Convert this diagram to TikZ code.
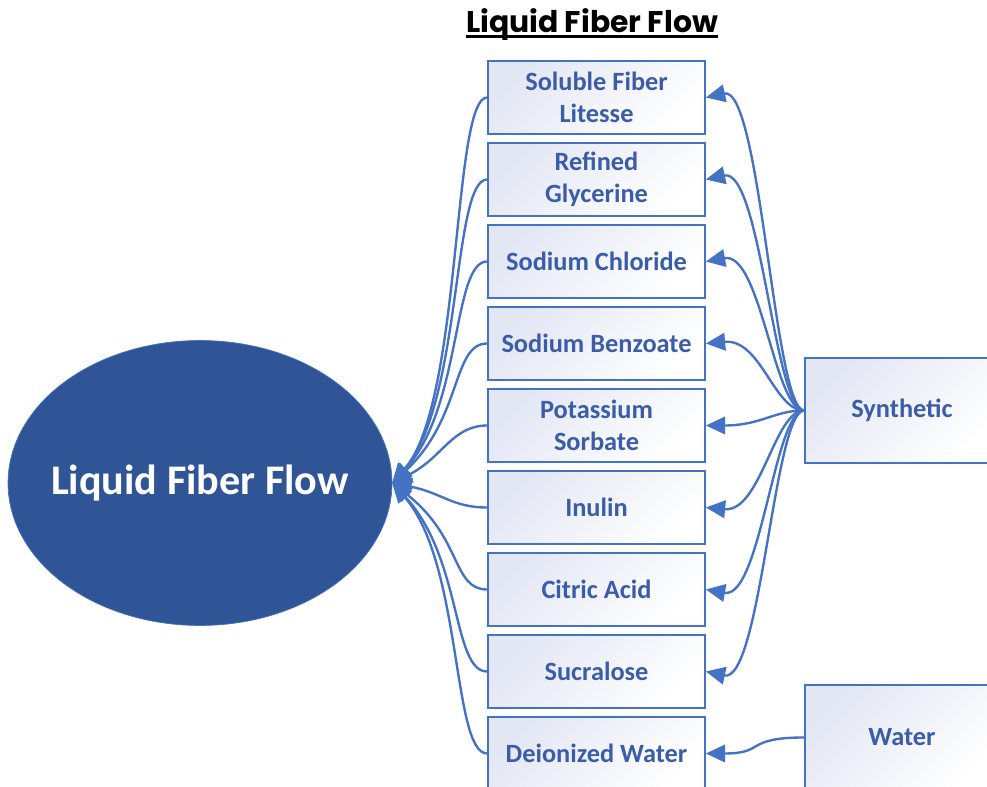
\documentclass[tikz,border=0pt]{standalone}
\usepackage{fontspec}
\setmainfont{Carlito}
\newfontfamily\titlefont{Poppins}
\usetikzlibrary{arrows.meta,shapes.geometric}
\definecolor{lineblue}{HTML}{4472C4}
\definecolor{textblue}{HTML}{3B5CA8}
\definecolor{ovalblue}{HTML}{2F5597}
\definecolor{shadeblue}{HTML}{E3E7F4}
\tikzset{
  item/.style={draw=lineblue, line width=1pt, top color=shadeblue, bottom color=white,
    shading angle=45, minimum width=4.34cm, minimum height=1.46cm, align=center,
    text=textblue, font=\bfseries\fontsize{15}{18}\selectfont},
  source/.style={item, minimum width=3.88cm, minimum height=2.1cm},
  link/.style={draw=lineblue, line width=1.35pt, -{Triangle[length=11pt,width=10pt]}}
}
\begin{document}
\begin{tikzpicture}[x=0.02cm,y=0.02cm]
  \clip (0,0) rectangle (987,787);
  % title
  \node[anchor=base, inner sep=0, font=\titlefont\bfseries\fontsize{17}{20}\selectfont] (title) at (592,754) {Liquid Fiber Flow};
  \draw[line width=1.7pt] (title.base west) ++(0,-4) -- ([yshift=-4*0.02cm]title.base east);
  % main oval
  \node[draw=lineblue, fill=ovalblue, ellipse, minimum width=7.68cm, minimum height=5.7cm, inner sep=0] (flow) at (200,304) {};
  \node[text=white, font=\bfseries\fontsize{24}{28}\selectfont] (flowtext) at (flow.center) {Liquid Fiber Flow};
  % ingredients
  \node[item] (fiber) at (596.5,689.5) {Soluble Fiber\\Litesse};
  \node[item] (glycerine) at (596.5,607.5) {Refined\\Glycerine};
  \node[item] (salt) at (596.5,525.5) {Sodium Chloride};
  \node[item] (benzoate) at (596.5,443.5) {Sodium Benzoate};
  \node[item] (sorbate) at (596.5,361.5) {Potassium\\Sorbate};
  \node[item] (inulin) at (596.5,279.5) {Inulin};
  \node[item] (citric) at (596.5,197.5) {Citric Acid};
  \node[item] (sucralose) at (596.5,115.5) {Sucralose};
  \node[item] (dwater) at (596.5,33.5) {Deionized Water};
  % sources
  \node[source] (synth) at (902,376.5) {Synthetic};
  \node[source] (water) at (902,49.5) {Water};
  % into the oval
  \draw[link] (fiber.west) .. controls +(-35,0) and +(70,80) .. (flow.east);
  \draw[link] (glycerine.west) .. controls +(-35,0) and +(70,80) .. (flow.east);
  \draw[link] (salt.west) .. controls +(-35,0) and +(70,75) .. (flow.east);
  \draw[link] (benzoate.west) .. controls +(-35,0) and +(70,65) .. (flow.east);
  \draw[link] (sorbate.west) .. controls +(-35,0) and +(50,25) .. (flow.east);
  \draw[link] (inulin.west) .. controls +(-35,0) and +(50,-10) .. (flow.east);
  \draw[link] (citric.west) .. controls +(-35,0) and +(70,-55) .. (flow.east);
  \draw[link] (sucralose.west) .. controls +(-35,0) and +(70,-75) .. (flow.east);
  \draw[link] (dwater.west) .. controls +(-35,0) and +(70,-80) .. (flow.east);
  % from the sources
  \draw[link] (synth.west) .. controls +(-30,0) and +(55,12) .. (fiber.east);
  \draw[link] (synth.west) .. controls +(-30,0) and +(55,12) .. (glycerine.east);
  \draw[link] (synth.west) .. controls +(-30,0) and +(55,10) .. (salt.east);
  \draw[link] (synth.west) .. controls +(-30,0) and +(55,5) .. (benzoate.east);
  \draw[link] (synth.west) .. controls +(-30,0) and +(55,0) .. (sorbate.east);
  \draw[link] (synth.west) .. controls +(-30,0) and +(55,-5) .. (inulin.east);
  \draw[link] (synth.west) .. controls +(-30,0) and +(55,-10) .. (citric.east);
  \draw[link] (synth.west) .. controls +(-30,0) and +(55,-12) .. (sucralose.east);
  \draw[link] (water.west) .. controls +(-60,0) and +(60,0) .. (dwater.east);
\end{tikzpicture}
\end{document}
